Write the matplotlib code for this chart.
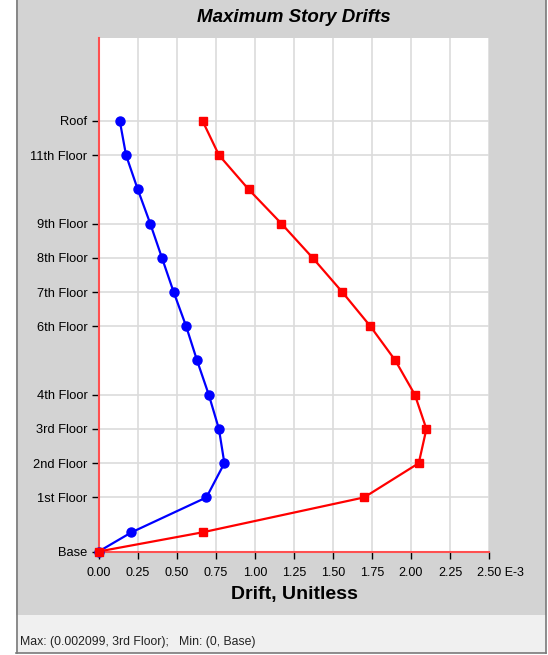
import matplotlib
matplotlib.use('Agg')
import matplotlib.pyplot as plt
import matplotlib.transforms as mtransforms
from matplotlib.patches import Rectangle
from matplotlib.lines import Line2D
import numpy as np

plt.rcParams['font.family'] = ['Liberation Sans', 'DejaVu Sans']

# story elevations (relative units) from base to roof
levels = ['Base', 'Level 1A', '1st Floor', '2nd Floor', '3rd Floor', '4th Floor', '5th Floor',
          '6th Floor', '7th Floor', '8th Floor', '9th Floor', '10th Floor', '11th Floor', 'Roof']
elev = [0, 0.56, 1.58, 2.58, 3.58, 4.58, 5.58, 6.58, 7.58, 8.58, 9.58, 10.58, 11.58, 12.58]
labeled = ['Base', '1st Floor', '2nd Floor', '3rd Floor', '4th Floor', '6th Floor',
           '7th Floor', '8th Floor', '9th Floor', '11th Floor', 'Roof']

# drifts, x 1E-3
drift_blue = [0, 0.21, 0.69, 0.805, 0.77, 0.705, 0.63, 0.56, 0.48, 0.405, 0.33, 0.25, 0.175, 0.135]
drift_red = [0, 0.665, 1.70, 2.05, 2.099, 2.025, 1.90, 1.74, 1.56, 1.37, 1.17, 0.96, 0.77, 0.665]

W, H = 548, 655
fig = plt.figure(figsize=(W / 100, H / 100), dpi=100, facecolor='white')

def px_rect(x0, y0, x1, y1, color):
    fig.patches.append(Rectangle((x0 / W, 1 - y1 / H), (x1 - x0) / W, (y1 - y0) / H,
                                 transform=fig.transFigure, facecolor=color,
                                 edgecolor='none', zorder=-10))

# window background + status strip
px_rect(16, 0, 546, 615, '#d3d3d3')
px_rect(16, 615, 546, 653, '#f0f0f0')
for xs, ys in [([16.5, 16.5], [0, 653]), ([545.5, 545.5], [0, 653]), ([16, 546], [653, 653])]:
    fig.lines.append(Line2D([x / W for x in xs], [1 - y / H for y in ys],
                            transform=fig.transFigure, color='#7a7a7a', lw=1.2))

ax = fig.add_axes([98.7 / W, 1 - 551.5 / H, (489 - 98.7) / W, (551.5 - 38) / H])
ax.set_facecolor('white')

ax.plot(drift_blue, elev, color='#0000ff', lw=1.6, marker='o', ms=6.5, zorder=3, clip_on=False)
ax.plot(drift_red, elev, color='#ff0000', lw=1.6, marker='s', ms=5.5, zorder=4, clip_on=False)

ax.set_xlim(0, 2.5)
ax.set_ylim(0, 15)
xt = np.arange(0, 2.51, 0.25)
ax.set_xticks(xt)
xl = ['%.2f' % v for v in xt]
xl[-1] = '2.50 E-3'
ax.set_xticklabels(xl)
ax.set_yticks([elev[levels.index(n)] for n in labeled])
ax.set_yticklabels(labeled)

ax.tick_params(axis='x', length=5, width=1, color='black', labelsize=9, pad=6)
ax.tick_params(axis='y', length=5, width=1, color='black', labelsize=9.3, pad=3)
ax.grid(True, color='#dcdcdc', lw=1.2)
ax.set_axisbelow(True)
for s in ['top', 'right']:
    ax.spines[s].set_visible(False)
for s in ['left', 'bottom']:
    ax.spines[s].set_color('#ff5050')
    ax.spines[s].set_linewidth(1.5)

# keep "2.50" centred on its tick, " E-3" hanging to the right
lbl = ax.get_xticklabels()[-1]
lbl.set_horizontalalignment('left')
lbl.set_transform(lbl.get_transform() + mtransforms.ScaledTranslation(-12 / 100, 0, fig.dpi_scale_trans))

fig.text(294 / W, 1 - 18 / H, 'Maximum Story Drifts', ha='center', va='center',
         fontsize=13.5, fontweight='bold', fontstyle='italic')
fig.text(294 / W, 1 - 595 / H, 'Drift, Unitless', ha='center', va='center',
         fontsize=14, fontweight='bold')
fig.text(20 / W, 1 - 642 / H, 'Max: (0.002099, 3rd Floor);   Min: (0, Base)', ha='left',
         va='center', fontsize=8.8, color='#222222')

fig.savefig('out.png', dpi=100, facecolor='white')
